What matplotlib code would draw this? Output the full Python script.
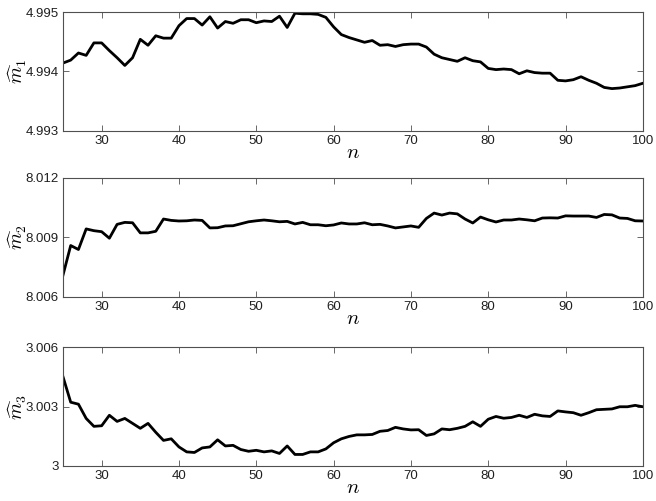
import numpy as np
import matplotlib.pyplot as plt
from matplotlib.ticker import FuncFormatter

# sample sizes
n = np.arange(25, 101)

# estimates of m1, m2, m3
m1 = [4.99414, 4.99419, 4.99431, 4.99427, 4.99448, 4.99448, 4.99435, 4.99423, 4.99410, 4.99423,
      4.99454, 4.99444, 4.99460, 4.99456, 4.99456, 4.99477, 4.99489, 4.99489, 4.99478, 4.99492,
      4.99473, 4.99484, 4.99481, 4.99487, 4.99487, 4.99482, 4.99485, 4.99484, 4.99493, 4.99474,
      4.99498, 4.99497, 4.99497, 4.99496, 4.99491, 4.99475, 4.99462, 4.99457, 4.99453, 4.99449,
      4.99452, 4.99444, 4.99445, 4.99442, 4.99445, 4.99446, 4.99446, 4.99441, 4.99429, 4.99423,
      4.99420, 4.99417, 4.99423, 4.99418, 4.99416, 4.99405, 4.99403, 4.99404, 4.99403, 4.99396,
      4.99401, 4.99398, 4.99397, 4.99397, 4.99385, 4.99384, 4.99386, 4.99391, 4.99385, 4.99380,
      4.99373, 4.99371, 4.99372, 4.99374, 4.99376, 4.99380]

m2 = [8.00708, 8.00858, 8.00838, 8.00942, 8.00933, 8.00928, 8.00895, 8.00965, 8.00975, 8.00973,
      8.00922, 8.00922, 8.00930, 8.00992, 8.00985, 8.00982, 8.00983, 8.00987, 8.00985, 8.00947,
      8.00948, 8.00957, 8.00958, 8.00968, 8.00978, 8.00983, 8.00987, 8.00983, 8.00978, 8.00980,
      8.00967, 8.00975, 8.00963, 8.00963, 8.00958, 8.00962, 8.00972, 8.00967, 8.00967, 8.00973,
      8.00963, 8.00965, 8.00957, 8.00947, 8.00952, 8.00957, 8.00950, 8.00995, 8.01022, 8.01012,
      8.01022, 8.01018, 8.00992, 8.00972, 8.01002, 8.00988, 8.00977, 8.00987, 8.00987, 8.00992,
      8.00988, 8.00983, 8.00997, 8.00998, 8.00997, 8.01008, 8.01007, 8.01007, 8.01007, 8.01000,
      8.01015, 8.01013, 8.00997, 8.00995, 8.00983, 8.00982]

m3 = [3.00451, 3.00322, 3.00312, 3.00240, 3.00200, 3.00203, 3.00256, 3.00225, 3.00240, 3.00215,
      3.00190, 3.00215, 3.00170, 3.00129, 3.00137, 3.00096, 3.00071, 3.00068, 3.00091, 3.00096,
      3.00132, 3.00101, 3.00104, 3.00083, 3.00074, 3.00079, 3.00071, 3.00076, 3.00063, 3.00101,
      3.00058, 3.00058, 3.00071, 3.00071, 3.00086, 3.00117, 3.00137, 3.00149, 3.00157, 3.00157,
      3.00159, 3.00175, 3.00179, 3.00195, 3.00187, 3.00182, 3.00183, 3.00154, 3.00162, 3.00187,
      3.00183, 3.00190, 3.00200, 3.00223, 3.00200, 3.00236, 3.00250, 3.00241, 3.00245, 3.00256,
      3.00245, 3.00261, 3.00253, 3.00250, 3.00278, 3.00273, 3.00269, 3.00256, 3.00269, 3.00284,
      3.00286, 3.00288, 3.00299, 3.00299, 3.00306, 3.00299]

series = [m1, m2, m3]
ylabels = [r'$\widehat{m}_1$', r'$\widehat{m}_2$', r'$\widehat{m}_3$']
yticks = [[4.993, 4.994, 4.995], [8.006, 8.009, 8.012], [3.000, 3.003, 3.006]]
xticks = [30, 40, 50, 60, 70, 80, 90, 100]

plt.rcParams['font.family'] = ['Liberation Sans', 'DejaVu Sans']
plt.rcParams['mathtext.fontset'] = 'cm'

fig = plt.figure(figsize=(6.56, 5.01), dpi=100)
tops = [0.976, 0.645, 0.307]
height = 0.237

def fmt(v, pos):
    s = f'{v:.3f}'.rstrip('0').rstrip('.')
    return s

for i in range(3):
    ax = fig.add_axes([0.096, tops[i] - height, 0.884, height])
    ax.plot(n, series[i], color='black', lw=2.0)
    ax.set_xlim(25, 100)
    ax.set_ylim(yticks[i][0], yticks[i][-1])
    ax.set_xticks(xticks)
    ax.set_yticks(yticks[i])
    ax.yaxis.set_major_formatter(FuncFormatter(fmt))
    ax.tick_params(direction='in', top=True, right=True, length=4, width=0.6,
                   labelsize=9.5, color='#505050', labelcolor='#202020', pad=3)
    for sp in ax.spines.values():
        sp.set_linewidth(0.8)
        sp.set_color('#505050')
    ax.set_xlabel(r'$n$', fontsize=15, labelpad=-3)
    ax.set_ylabel(ylabels[i], fontsize=14)
    ax.yaxis.set_label_coords(-0.059, 0.5)

fig.savefig('out.png', dpi=100)
